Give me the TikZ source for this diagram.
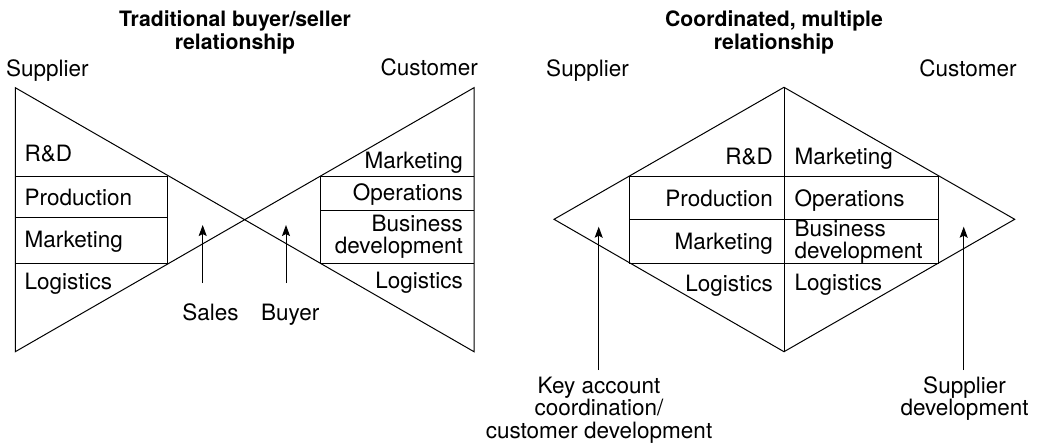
\documentclass[tikz,border=0pt]{standalone}
\usepackage{fontspec}
\setmainfont{TeX Gyre Heros}
\usetikzlibrary{arrows.meta}
\begin{document}
\begin{tikzpicture}[x=1pt,y=-1pt,
  ln/.style={line width=1pt, line join=miter},
  lbl/.style={inner sep=0pt, font=\fontsize{22.5}{21.5}\selectfont},
  ttl/.style={inner sep=0pt, font=\fontsize{21.2}{23.3}\selectfont\bfseries, align=center},
  arr/.style={line width=1pt, -{Stealth[length=11pt,width=8pt,inset=2pt]}},
]
\path[use as bounding box] (0,0) rectangle (1038,444);

% ---------- Left: traditional ----------
\coordinate (LT) at (15.3,87.7);
\coordinate (LB) at (15.3,351.7);
\coordinate (RT) at (474,87.7);
\coordinate (RB) at (474,351.7);
\draw[ln] (LT) -- (RB) -- (RT) -- (LB) -- cycle;
% supplier box
\coordinate (sb1l) at (15.3,176.3); \coordinate (sb1r) at (167.7,176.3);
\coordinate (sb2l) at (15.3,217.3); \coordinate (sb2r) at (167.7,217.3);
\coordinate (sb3l) at (15.3,263.7); \coordinate (sb3r) at (167.7,263.7);
\draw[ln] (sb1l) -- (sb1r) -- (sb3r) -- (sb3l);
\draw[ln] (sb2l) -- (sb2r);
% customer box
\coordinate (cb1l) at (320,176.3); \coordinate (cb1r) at (474,176.3);
\coordinate (cb2l) at (320,210.3); \coordinate (cb2r) at (474,210.3);
\coordinate (cb3l) at (320,263.7); \coordinate (cb3r) at (474,263.7);
\draw[ln] (cb1r) -- (cb1l) -- (cb3l) -- (cb3r);
\draw[ln] (cb2l) -- (cb2r);

\node[ttl,anchor=base] (ttlL) at (235,50) {Traditional buyer/seller\\relationship};
\node[lbl,anchor=base west] (supL) at (6,76) {Supplier};
\node[lbl,anchor=base east] (cusL) at (478,75.5) {Customer};

\node[lbl,anchor=base west] (rdL) at (24.5,161.7) {R\&D};
\node[lbl,anchor=base west] (prL) at (24.5,205) {Production};
\node[lbl,anchor=base west] (mkL) at (24.5,247.3) {Marketing};
\node[lbl,anchor=base west] (lgL) at (24.5,289.3) {Logistics};

\node[lbl,anchor=base east] (mkC) at (463,168.3) {Marketing};
\node[lbl,anchor=base east] (opC) at (463,200) {Operations};
\node[lbl,anchor=base east,align=right] (bdC) at (463,253.3) {Business\\development};
\node[lbl,anchor=base east] (lgC) at (463,288) {Logistics};

\node[lbl,anchor=base] (sales) at (210.5,320) {Sales};
\node[lbl,anchor=base] (buyer) at (290.3,320) {Buyer};
\coordinate (salesS) at (202.7,283);
\coordinate (salesT) at (202.7,225);
\coordinate (buyerS) at (286,283);
\coordinate (buyerT) at (286,225);
\draw[arr] (salesS) -- (salesT);
\draw[arr] (buyerS) -- (buyerT);

% ---------- Right: coordinated ----------
\coordinate (DT) at (784,87.3);
\coordinate (DB) at (784,351.7);
\coordinate (DL) at (554,219.3);
\coordinate (DR) at (1014.7,219.3);
\draw[ln] (DT) -- (DR) -- (DB) -- (DL) -- cycle;
\draw[ln] (DT) -- (DB);
\coordinate (b1l) at (629.5,176.2); \coordinate (b1r) at (938.3,176.2);
\coordinate (b2l) at (629.5,219.2); \coordinate (b2r) at (938.3,219.2);
\coordinate (b3l) at (629.5,263.3); \coordinate (b3r) at (938.3,263.3);
\draw[ln] (b1l) rectangle (b3r);
\draw[ln] (b2l) -- (b2r);

\node[ttl,anchor=base] (ttlR) at (774,50) {Coordinated, multiple\\relationship};
\node[lbl,anchor=base] (supR) at (587.5,76) {Supplier};
\node[lbl,anchor=base] (cusR) at (968,76) {Customer};

\node[lbl,anchor=base east] (rdR) at (773,164) {R\&D};
\node[lbl,anchor=base east] (prR) at (773,206) {Production};
\node[lbl,anchor=base east] (mkR) at (773,249.3) {Marketing};
\node[lbl,anchor=base east] (lgR) at (773,291.7) {Logistics};

\node[lbl,anchor=base west] (mkD) at (794.5,164) {Marketing};
\node[lbl,anchor=base west] (opD) at (794.5,206) {Operations};
\node[lbl,anchor=base west,align=left] (bdD) at (794.5,258.3) {Business\\development};
\node[lbl,anchor=base west] (lgD) at (794.5,290.7) {Logistics};

\node[lbl,anchor=base,align=center,font=\fontsize{22.5}{22.5}\selectfont] (kac) at (599,438.3) {Key account\\coordination/\\customer development};
\node[lbl,anchor=base,align=center,font=\fontsize{22.5}{21.7}\selectfont] (sdv) at (964.5,415) {Supplier\\development};
\coordinate (kacS) at (598.7,370);
\coordinate (kacT) at (598.7,226.7);
\coordinate (sdvS) at (963.7,370);
\coordinate (sdvT) at (963.7,226.7);
\draw[arr] (kacS) -- (kacT);
\draw[arr] (sdvS) -- (sdvT);
\end{tikzpicture}
\end{document}
